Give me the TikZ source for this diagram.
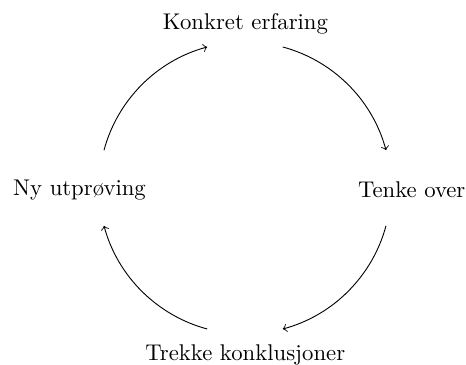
\documentclass[tikz,border=0pt]{standalone}
\begin{document}
\begin{tikzpicture}[x=0.44pt,y=0.44pt,
  lbl/.style={anchor=base,inner sep=0pt,font=\normalsize},
  cyc/.style={->,looseness=0.91}]
\useasboundingbox (0,0) rectangle (466,365);
\node[lbl] (top) at (245.5,335.5) {Konkret erfaring};
\node[lbl] (right) at (411.7,167.5) {Tenke over};
\node[lbl] (bottom) at (245.3,4) {Trekke konklusjoner};
\node[lbl] (left) at (79.5,169.3) {Ny utprøving};
\coordinate (a1) at (282.8,318);
\coordinate (a2) at (386,214.8);
\coordinate (b1) at (386,139.2);
\coordinate (b2) at (282.8,36);
\coordinate (c1) at (207.2,36);
\coordinate (c2) at (104,139.2);
\coordinate (d1) at (104,214.8);
\coordinate (d2) at (207.2,318);
\draw[cyc] (a1) to[out=-15,in=105] (a2);
\draw[cyc] (b1) to[out=-105,in=15] (b2);
\draw[cyc] (c1) to[out=165,in=-75] (c2);
\draw[cyc] (d1) to[out=75,in=-165] (d2);
\end{tikzpicture}
\end{document}
